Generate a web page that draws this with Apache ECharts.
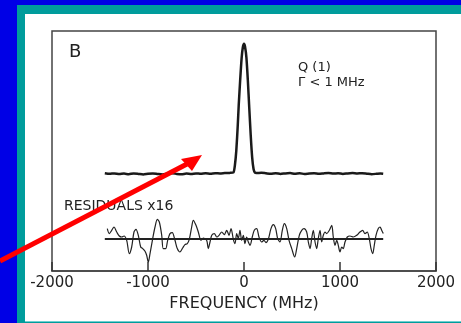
<!DOCTYPE html>
<html>
<head>
<meta charset="utf-8">
<script src="https://cdn.jsdelivr.net/npm/echarts@6/dist/echarts.min.js"></script>
<style>
  html, body { margin: 0; padding: 0; width: 461px; height: 323px; overflow: hidden; background: #0000e6; }
  #teal { position: absolute; left: 17px; top: 5px; width: 444px; height: 318px; background: #009c9c; }
  #white { position: absolute; left: 25px; top: 14px; width: 436px; height: 307px; background: #ffffff; }
  #bline { position: absolute; left: 25px; top: 321px; width: 436px; height: 1px; background: #6fd0d0; }
  #chart { position: absolute; left: 0; top: 0; width: 461px; height: 323px; }
</style>
</head>
<body>
<div id="teal"></div>
<div id="white"></div>
<div id="bline"></div>
<div id="chart"></div>
<script>
// X axis (frequency, MHz)
const xMin = -2000, xMax = 2000, xInterval = 1000;
// Y axis (arbitrary intensity units)
const yMin = 0, yMax = 240;

// Main spectrum trace
const specFreq = [-1450,-1400,-1350,-1300,-1250,-1200,-1150,-1100,-1050,-1000,-950,-900,-850,-800,-750,-700,-650,-600,-550,-500,-450,-400,-350,-300,-250,-200,-150,
  -110,-95,-80,-65,-55,-40,-25,-12,0,10,25,40,55,70,85,100,115,
  130,180,230,280,330,380,430,480,530,580,630,680,730,780,830,880,930,980,1030,1080,1130,1180,1230,1280,1330,1380,1420,1450];
const specVal = [97.8,97.2,97.6,97.0,97.4,96.8,97.5,97.1,96.6,97.3,97.6,97.0,96.5,97.2,97.8,97.1,96.7,97.4,97.0,97.6,97.2,97.7,97.3,97.8,97.5,97.9,98.1,
  98.5,105.7,120.7,145.7,165.7,190.7,212.7,223.7,227.2,224.7,213.7,190.7,162.7,135.7,113.7,101.7,98.2,
  97.9,98.3,97.7,97.2,97.8,97.1,97.6,97.9,97.3,97.8,97.0,97.5,97.8,97.2,97.6,97.9,97.4,97.7,97.1,97.6,97.9,97.5,97.8,97.3,96.8,97.2,97.6,97.3];

// Residuals (x16) zero line
const residZeroFreq = [-1450, 1450];
const residZeroVal = [32, 32];

// Residual trace
const residFreq = [-1424,-1403,-1378,-1354,-1326,-1299,-1274,-1250,-1222,-1195,-1170,-1146,-1125,-1101,-1076,-1055,-1031,-1014,-997,-979,-951,-927,-903,-882,-857,-841,-816,-795,-771,-747,-719,-695,-667,-639,-615,-591,-570,-545,-528,-500,-476,-448,-424,-389,-372,-354,-336,-309,-284,-260,-232,-205,-180,-156,-135,-111,-94,-76,-59,-42,-24,-7,10,28,45,63,86,107,132,156,184,208,229,253,281,305,330,351,375,399,420,445,469,497,528,549,576,601,625,653,670,688,705,722,740,757,774,792,809,826,844,861,889,914,930,948,966,982,1000,1018,1034,1052,1076,1104,1139,1174,1208,1236,1260,1284,1305,1323,1341,1357,1375,1399,1417,1434,1451];
const residVal = [42.4,37.4,40.7,44,39,35,34,35,30.7,17.4,24,39,41.7,35.7,24,22.4,19.7,15.7,9,17.4,32.4,44,51.7,49,35.7,22.4,22.4,30.7,37.4,38.4,30.7,22.4,19,23,26.4,27.4,31.7,44,50.7,45.7,39,30.7,33,30.7,22.4,29,35.7,37.4,34,35.7,39,36.4,40.7,35.7,42.4,31.7,27.4,37.4,32.4,40.7,30.7,35.7,27.4,34,29,25.7,34,40.7,42.4,34,29,30.7,28.4,31.7,42.4,46.4,42.4,32.4,29,40.7,47.4,42.4,30.7,22.4,14,22.4,35.7,40.7,42.4,39,29,22.4,32.4,40.7,29,22.4,32.4,40.7,29,35.7,39,37.4,40.7,45.7,34,25.7,30.7,25.7,19,24,22.4,29,34,35,34,35.7,39,40.7,37.4,39,32.4,22.4,17.4,25.7,35.7,42.4,44,40.7,37.4];

// Labels
const panelLabel = 'B';
const lineLabel1 = 'Q (1)';
const lineLabel2 = 'Γ < 1 MHz';
const residLabel = 'RESIDUALS x16';
const xAxisName = 'FREQUENCY (MHz)';

function pairs(xs, ys) {
  const n = Math.min(xs.length, ys.length);
  const out = [];
  for (let i = 0; i < n; i++) out.push([xs[i], ys[i]]);
  return out;
}

const FONT = 'DejaVu Sans';
const INK = '#222';

const chart = echarts.init(document.getElementById('chart'), null, { renderer: 'canvas' });
chart.setOption({
  animation: false,
  backgroundColor: 'transparent',
  grid: {
    left: 52, right: 25, top: 31, bottom: 52,
    show: true, borderColor: '#444', borderWidth: 1.5, backgroundColor: 'transparent'
  },
  xAxis: {
    type: 'value', min: xMin, max: xMax, interval: xInterval,
    name: xAxisName, nameLocation: 'middle', nameGap: 21,
    nameTextStyle: { fontFamily: FONT, fontSize: 16, color: INK },
    axisLine: { show: true, lineStyle: { color: '#444', width: 1.5 } },
    axisTick: { show: true, inside: true, length: 9, lineStyle: { color: '#333', width: 1.5 } },
    axisLabel: { fontFamily: FONT, fontSize: 15, color: INK, margin: 5, formatter: v => String(v) },
    splitLine: { show: false }
  },
  yAxis: {
    type: 'value', min: yMin, max: yMax, show: false, splitLine: { show: false }
  },
  series: [
    {
      type: 'line', data: pairs(specFreq, specVal), symbol: 'none', smooth: 0.2,
      lineStyle: { color: '#1a1a1a', width: 2.5 }
    },
    {
      type: 'line', data: pairs(residZeroFreq, residZeroVal), symbol: 'none',
      lineStyle: { color: '#222', width: 1.8 }
    },
    {
      type: 'line', data: pairs(residFreq, residVal), symbol: 'none', smooth: 0.3,
      lineStyle: { color: '#222', width: 1.2 }
    }
  ],
  graphic: [
    { type: 'text', left: 69, top: 43, style: { text: panelLabel, font: '18px "DejaVu Sans"', fill: INK } },
    { type: 'text', left: 298, top: 61, style: { text: lineLabel1, font: '13px "DejaVu Sans"', fill: INK } },
    { type: 'text', left: 298, top: 76, style: { text: lineLabel2, font: '13px "DejaVu Sans"', fill: INK } },
    { type: 'text', left: 64, top: 199, style: { text: residLabel, font: '14px "DejaVu Sans"', fill: INK } },
    { type: 'polyline', z: 100, shape: { points: [[0, 261], [187, 164]] }, style: { stroke: '#ff0000', lineWidth: 5, fill: null } },
    { type: 'polygon', z: 100, shape: { points: [[202, 155], [181, 159], [192, 171]] }, style: { fill: '#ff0000' } }
  ]
});
</script>
</body>
</html>
